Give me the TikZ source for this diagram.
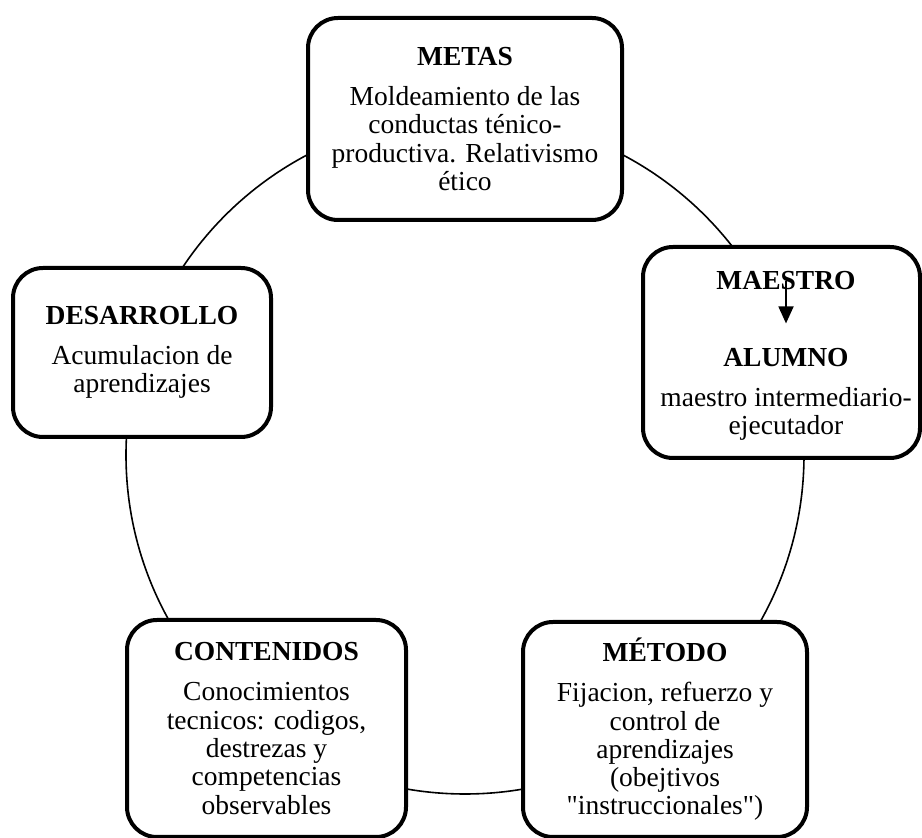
\documentclass[tikz,border=0pt]{standalone}
\usepackage{fontspec}
\setmainfont{Liberation Serif}
\newfontfamily\rectofont{Liberation Serif}
\usetikzlibrary{arrows.meta,positioning,calc}
\def\boxrad{15pt}
\def\txtfont{\fontsize{13.75}{14.15}\selectfont}
\def\tgap{5.85pt}
\def\comilla{{\rectofont"}}
\tikzset{
  caja/.style   = {draw, fill=white, line width=2pt, rounded corners=\boxrad,
                   align=center, inner sep=0pt, font=\txtfont},
  etiqueta/.style = {align=center, inner sep=0pt, font=\txtfont},
  ciclo/.style  = {line width=0.8pt},
  flecha/.style = {-{Triangle[length=8.5pt,width=7.5pt]},
                   line width=0.9pt, shorten >=12pt}
}
\begin{document}
\begin{tikzpicture}[x=0.5pt,y=-0.5pt]
\useasboundingbox (0,0) rectangle (922,838);

% -------------------- Cycle --------------------
\coordinate (centro) at (465,455);
\draw[ciclo] (centro) circle[radius=169.5pt];

% -------------------- Boxes --------------------
\node[caja, minimum width=157pt, minimum height=101pt] (metas) at (465,119)
  {{\bfseries METAS}\\[\tgap] Moldeamiento de las\\ conductas ténico-\\
   productiva. Relativismo\\ ético};

\node[caja, minimum width=138.5pt, minimum height=105.5pt] (maestro) at (781.5,352.5) {};

\node[caja, minimum width=129pt, minimum height=84.5pt] (desarrollo) at (142,352.5)
  {{\bfseries DESARROLLO}\\[\tgap] Acumulacion de\\ aprendizajes};

\node[caja, minimum width=139.5pt, minimum height=108.5pt] (contenidos) at (266.5,728.5)
  {{\bfseries CONTENIDOS}\\[\tgap] Conocimientos\\ tecnicos: codigos,\\
   destrezas y\\ competencias\\ observables};

\node[caja, minimum width=142pt, minimum height=107.5pt] (metodo) at (665,729.5)
  {{\bfseries MÉTODO}\\[\tgap] Fijacion, refuerzo y\\ control de\\ aprendizajes\\
   (obejtivos\\ \comilla instruccionales\comilla)};

% MAESTRO -> ALUMNO inside its box
\node[etiqueta, font=\txtfont\bfseries] (mae) at (786,281) {MAESTRO};
\node[etiqueta] (alu) at (786,394)
  {{\bfseries ALUMNO}\\[\tgap] maestro intermediario-\\ ejecutador};
\draw[flecha] (mae.center) -- (alu.north);

\end{tikzpicture}
\end{document}
